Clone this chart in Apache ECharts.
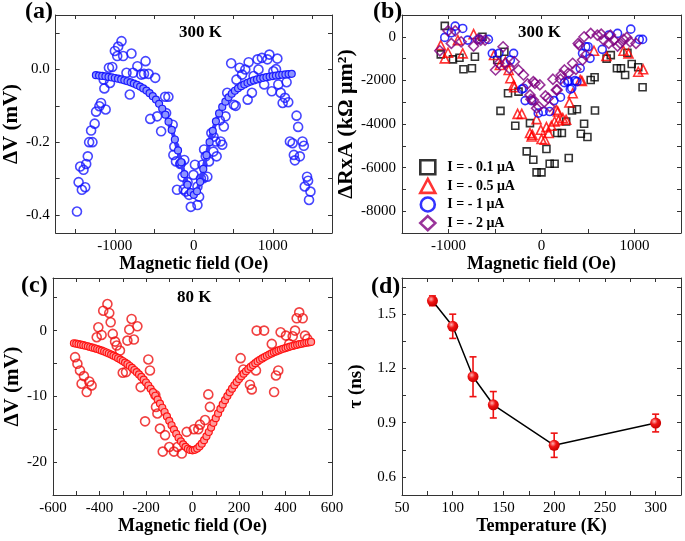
<!DOCTYPE html>
<html><head><meta charset="utf-8">
<script src="https://cdn.jsdelivr.net/npm/echarts@6/dist/echarts.min.js"></script>
<style>html,body{margin:0;padding:0;background:#fff}#c{width:685px;height:541px}</style>
</head><body><div id="c"></div>
<script>
// ---------- Panel (a): 300 K, ΔV vs field ----------
const aFieldX = [-1480,-1459,-1418,-1376,-1439,-1397,-1363,-1343,-1326,-1284,-1301,-1256,-1238,-1196,-1175,-1117,-1133,-1141,-1075,-1033,-1062,-1000,-970,-916,-958,-895,-790,-853,-811,-770,-715,-665,-611,-631,-573,-489,-552,-464,-414,-364,-322,-268,-259,-226,-213,-172,-121,-142,-100,-38,14,-4,46,-351,-247,-163,-79,-129,-60,
  67,46,121,171,109,151,192,130,247,289,222,276,339,360,380,401,423,506,530,473,540,581,611,652,694,682,736,757,807,819,862,891,932,957,987,1008,1058,1041,1070,1100,1125,1154,1196,1175,1301,1321,1217,1251,1267,1280,1343,1376,1393,1434,1405,1447,1477,1459,250,330,90];
const aDeltaV = [-0.391,-0.310,-0.331,-0.324,-0.267,-0.276,-0.260,-0.239,-0.200,-0.200,-0.168,-0.149,-0.116,-0.101,-0.092,-0.110,-0.052,-0.028,0.005,0.007,-0.037,0.051,0.037,0.078,0.063,0.037,0.044,-0.009,-0.069,-0.009,0.009,-0.014,0.023,-0.012,-0.012,-0.023,-0.136,-0.129,-0.170,-0.075,-0.075,-0.152,-0.235,-0.253,-0.331,-0.260,-0.249,-0.295,-0.336,-0.378,-0.262,-0.290,-0.373,-0.120,-0.212,-0.258,-0.310,-0.330,-0.345,
  -0.350,-0.322,-0.299,-0.295,-0.262,-0.239,-0.253,-0.220,-0.226,-0.239,-0.175,-0.198,-0.198,-0.207,-0.157,-0.129,-0.064,-0.097,-0.100,0.017,-0.028,0.005,-0.014,0.000,0.020,-0.083,-0.064,-0.018,0.028,0.000,0.032,-0.041,0.028,0.041,-0.060,-0.005,0.030,0.001,-0.041,-0.064,-0.092,-0.078,-0.090,-0.035,-0.127,-0.158,-0.198,-0.203,-0.235,-0.250,-0.239,-0.198,-0.210,-0.295,-0.322,-0.306,-0.336,-0.359,-0.185,-0.140,-0.300];
const aFitX = [-1240,-1200,-1160,-1120,-1080,-1040,-1000,-960,-920,-880,-840,-800,-760,-720,-680,-640,-600,-560,-520,-480,-440,-400,-360,-320,-280,-240,-200,-160,-120,-80,-40,0,
  40,80,120,160,200,240,280,320,360,400,440,480,520,560,600,640,680,720,760,800,840,880,920,960,1000,1040,1080,1120,1160,1200,1240];
const aFitY = [-0.0156,-0.0166,-0.0177,-0.0189,-0.0203,-0.0218,-0.0234,-0.0253,-0.0274,-0.0297,-0.0323,-0.0353,-0.0387,-0.0425,-0.0470,-0.0521,-0.0581,-0.0651,-0.0733,-0.0829,-0.0944,-0.1080,-0.1242,-0.1435,-0.1662,-0.1927,-0.2228,-0.2553,-0.2881,-0.3171,-0.3376,-0.3450,
  -0.3353,-0.3092,-0.2737,-0.2357,-0.2001,-0.1689,-0.1426,-0.1209,-0.1031,-0.0885,-0.0766,-0.0667,-0.0585,-0.0517,-0.0459,-0.0410,-0.0368,-0.0332,-0.0301,-0.0274,-0.0250,-0.0230,-0.0211,-0.0195,-0.0181,-0.0168,-0.0156,-0.0145,-0.0136,-0.0127,-0.0120];
const aTicksX = [-1500,-1000,-500,0,500,1000,1500];
const aLabelsX = [-1000,0,1000];
const aTicksY = [-0.4,-0.3,-0.2,-0.1,0,0.1];
const aLabelsY = [-0.4,-0.2,0];

// ---------- Panel (b): ΔRxA for four currents ----------
const bNames = ['I = - 0.1 μA','I = - 0.5 μA','I = - 1 μA','I = - 2 μA'];
const b1X = [-1040,-1083,-952,-882,-839,-748,-716,-635,-476,-399,-360,-441,-282,-159,-124,-88,-53,0,-247,53,88,141,293,169,219,265,328,381,458,423,494,575,529,571,700,745,811,854,899,924,970,1040,1087];
const b1Y = [503,-806,-1035,-958,-1490,-1446,-914,0,-1065,-686,-2587,-3397,-4082,-5257,-3959,-5637,-6217,-6217,-2514,-5150,-5820,-5820,-5560,-4416,-4416,-3886,-3383,-3320,-3991,-4448,-4599,-3383,-1979,-1856,-1000,-840,-1446,-1446,-1751,-731,-1248,-1399,-2313];
const b2X = [-1083,-1040,-1005,-899,-847,-730,-511,-388,-448,-353,-335,-300,-293,-257,-212,-124,-106,-98,-53,0,-7,35,53,77,106,141,159,176,183,229,265,300,335,416,434,564,698,882,935,1040,1093];
const b2Y = [-379,-988,-731,-151,-759,123,-837,-1143,-1294,-1522,-1902,-2208,-2313,-3534,-3534,-4416,-4571,-4494,-3777,-4690,-4265,-4722,-4142,-4416,-4082,-3886,-3351,-3429,-3840,-3731,-3808,-3017,-2587,-1979,-2025,-640,-882,-640,-759,-1600,-1490];
const b3X = [-1040,-928,-847,-970,-794,-670,-571,-529,-458,-300,-335,-194,-212,-176,-106,-35,18,88,134,204,247,289,325,360,282,310,381,416,441,476,501,522,653,723,818,960,1051,1087];
const b3Y = [-27,489,384,183,-151,-119,-119,-759,-759,-759,-1065,-2359,-2405,-2926,-2926,-3502,-3429,-3429,-2926,-2771,-2103,-2011,-2359,-2011,-2057,-2405,-2057,-1446,-759,-457,-457,-988,-576,78,155,352,-119,-119];
const b4X = [-1093,-1005,-928,-970,-864,-730,-653,-688,-607,-494,-413,-458,-388,-346,-293,-247,-194,-151,-88,-71,-18,-124,-113,-53,-88,-28,42,71,88,123,159,169,204,212,247,289,335,370,441,476,405,395,458,529,600,642,670,723,741,776,818,847,882,917,952,1016];
const b4Y = [-640,274,274,-302,-229,-425,-151,-119,-152,-1522,-457,-1216,-1216,-1446,-1143,-1522,-1751,-2162,-2057,-2131,-2208,-2665,-2862,-3273,-2894,-3200,-2711,-2816,-3200,-1947,-2437,-2437,-1947,-1751,-1522,-1673,-1216,-1490,-1065,-837,-379,-302,0,155,78,123,-152,-302,78,-151,-425,-302,-119,-27,-229,-302];
const bTicksX = [-1000,-500,0,500,1000];
const bLabelsX = [-1000,0,1000];
const bTicksY = [-8000,-7000,-6000,-5000,-4000,-3000,-2000,-1000,0];
const bLabelsY = [-8000,-6000,-4000,-2000,0];

// ---------- Panel (c): 80 K ----------
const cFieldX = [-505,-495,-484,-467,-477,-444,-434,-455,-412,-405,-391,-384,-366,-358,-352,-343,-333,-326,-312,-300,-286,-280,-272,-262,-252,-237,-223,-190,-183,-204,-157,-151,-160,-140,-118,-128,-100,-80,-65,-46,-25,6,25,32,54,68,75,219,207,247,255,273,276,308,341,351,359,369,379,402,416,431,441,448,459,474,484,494];
const cDeltaV = [-4.04,-5.05,-6.06,-6.92,-8.08,-7.73,-8.33,-9.34,-1.01,0.50,-0.66,3.03,4.04,2.68,1.26,-0.50,-1.67,-2.27,-3.03,-6.41,-6.31,-1.52,0.15,1.77,-1.36,0.66,-8.59,-4.39,-6.06,-13.8,-11.6,-12.6,-9.8,-14.9,-15.9,-18.4,-17.7,-18.4,-17.7,-18.7,-15.4,-15.0,-15.0,-14.3,-13.6,-9.7,-11.6,-5.91,-4.19,-8.23,-8.94,-6.06,0.00,0.00,-2.02,-9.34,-6.82,-6.06,-0.25,-0.76,-2.02,-0.86,0.00,1.87,2.78,1.87,-0.76,-1.26];
const cFitX = [-510,-500,-490,-480,-470,-460,-450,-440,-430,-420,-410,-400,-390,-380,-370,-360,-350,-340,-330,-320,-310,-300,-290,-280,-270,-260,-250,-240,-230,-220,-210,-200,-190,-180,-170,-160,-150,-140,-130,-120,-110,-100,-90,-80,-70,-60,-50,-40,-30,-20,-10,0,
  10,20,30,40,50,60,70,80,90,100,110,120,130,140,150,160,170,180,190,200,210,220,230,240,250,260,270,280,290,300,310,320,330,340,350,360,370,380,390,400,410,420,430,440,450,460,470,480,490,500,510];
const cFitY = [-1.92,-1.99,-2.06,-2.14,-2.22,-2.30,-2.39,-2.49,-2.59,-2.69,-2.80,-2.92,-3.05,-3.18,-3.33,-3.48,-3.64,-3.81,-3.99,-4.19,-4.40,-4.62,-4.86,-5.11,-5.38,-5.67,-5.99,-6.32,-6.67,-7.05,-7.46,-7.89,-8.35,-8.84,-9.36,-9.91,-10.49,-11.10,-11.73,-12.38,-13.05,-13.72,-14.39,-15.05,-15.69,-16.29,-16.83,-17.30,-17.68,-17.97,-18.14,-18.20,
  -18.13,-17.94,-17.62,-17.19,-16.67,-16.07,-15.42,-14.74,-14.03,-13.31,-12.60,-11.90,-11.23,-10.58,-9.96,-9.38,-8.83,-8.31,-7.82,-7.37,-6.95,-6.55,-6.18,-5.84,-5.52,-5.23,-4.95,-4.69,-4.45,-4.23,-4.02,-3.82,-3.64,-3.47,-3.31,-3.16,-3.02,-2.89,-2.76,-2.65,-2.54,-2.43,-2.34,-2.24,-2.16,-2.07,-2.00,-1.92,-1.85,-1.79,-1.72];
const cTicksX = [-500,-400,-300,-200,-100,0,100,200,300,400,500];
const cLabelsX = [-600,-400,-200,0,200,400,600];
const cTicksY = [-20,-15,-10,-5,0,5];
const cLabelsY = [-20,-10,0];

// ---------- Panel (d): τ vs temperature ----------
const dTemp = [80,100,120,140,200,300];
const dTau = [1.574,1.433,1.154,0.999,0.775,0.898];
const dErr = [0.027,0.067,0.11,0.073,0.067,0.049];
const dTicksX = [75,100,125,150,175,200,225,250,275,300];
const dLabelsX = [50,100,150,200,250,300];
const dTicksY = [0.6,0.75,0.9,1.05,1.2,1.35,1.5,1.65];
const dLabelsY = [0.6,0.9,1.2,1.5];

// ---------- build ----------
const FONT = '"Liberation Serif","Times New Roman",serif';
const AX = '#333';
const zip = (xs, ys) => xs.map((x, i) => [x, ys[i]]);

function xPair(gi, min, max, ticks, labels, name, fmt) {
  const base = {type:'value', gridIndex:gi, min, max, splitLine:{show:false},
    axisLine:{show:true, onZero:false, lineStyle:{color:AX, width:1}},
    axisTick:{show:true, inside:true, length:4, customValues:ticks, lineStyle:{color:AX}}};
  return [
    Object.assign({}, base, {position:'bottom',
      axisLabel:{customValues:labels, formatter:fmt, color:'#000', fontFamily:FONT, fontSize:15, margin:6},
      name, nameLocation:'middle', nameGap:17,
      nameTextStyle:{fontFamily:FONT, fontWeight:'bold', fontSize:18, color:'#000'}}),
    Object.assign({}, base, {position:'top', axisLabel:{show:false}})
  ];
}
function yPair(gi, min, max, ticks, labels, name, fmt, gap, nsize) {
  const base = {type:'value', gridIndex:gi, min, max, splitLine:{show:false},
    axisLine:{show:true, onZero:false, lineStyle:{color:AX, width:1}},
    axisTick:{show:true, inside:true, length:4, customValues:ticks, lineStyle:{color:AX}}};
  return [
    Object.assign({}, base, {position:'left',
      axisLabel:{customValues:labels, formatter:fmt, color:'#000', fontFamily:FONT, fontSize:15, margin:6},
      name, nameLocation:'middle', nameGap:gap,
      nameTextStyle:{fontFamily:FONT, fontWeight:'bold', fontSize:nsize, color:'#000'}}),
    Object.assign({}, base, {position:'right', axisLabel:{show:false}})
  ];
}
const f0 = v => String(Math.round(v));
const f1 = v => (Math.abs(v) < 1e-9 ? 0 : v).toFixed(1);

const hollow = (c, w) => ({color:'rgba(255,255,255,0)', borderColor:c, borderWidth:w});
const RED = '#ee1111';
const ttl = (text, left, top, size) => ({text, left, top, padding:0,
  textStyle:{fontFamily:FONT, fontWeight:'bold', fontSize:size, color:'#000'}});

const option = {
  animation:false,
  backgroundColor:'#fff',
  title:[
    ttl('(a)', 25, 0, 24),
    ttl('(b)', 373, 0, 24),
    ttl('(c)', 21, 274, 24),
    ttl('(d)', 371, 275, 24),
    ttl('300 K', 179, 24, 17),
    ttl('300 K', 518, 24, 17),
    ttl('80 K', 177, 289, 17)
  ],
  grid:[
    {left:53, top:15, width:279, height:218},
    {left:402, top:15, width:279, height:218},
    {left:53, top:278, width:279, height:217},
    {left:402, top:278, width:279, height:217}
  ],
  xAxis:[
    ...xPair(0, -1750, 1750, aTicksX, aLabelsX, 'Magnetic field (Oe)', f0),
    ...xPair(1, -1500, 1500, bTicksX, bLabelsX, 'Magnetic field (Oe)', f0),
    ...xPair(2, -600, 600, cTicksX, cLabelsX, 'Magnetic field (Oe)', f0),
    ...xPair(3, 50, 325, dTicksX, dLabelsX, 'Temperature (K)', f0)
  ],
  yAxis:[
    ...yPair(0, -0.45, 0.15, aTicksY, aLabelsY, 'ΔV (mV)', f1, 29, 21),
    ...yPair(1, -9000, 1000, bTicksY, bLabelsY, 'ΔRxA (kΩ μm²)', f0, 36, 22),
    ...yPair(2, -25, 8, cTicksY, cLabelsY, 'ΔV (mV)', f0, 28, 21),
    ...yPair(3, 0.5, 1.7, dTicksY, dLabelsY, 'τ (ns)', f1, 36, 19)
  ],
  legend:{
    data: bNames.map(n => ({name:n, itemStyle:{borderWidth:2.6}})),
    orient:'vertical', left:414, top:154, itemGap:2, itemWidth:15, itemHeight:14,
    textStyle:{fontFamily:FONT, fontWeight:'bold', fontSize:14, color:'#000', padding:[0,0,0,7]},
    selectedMode:false
  },
  series:[
    {type:'scatter', xAxisIndex:0, yAxisIndex:0, symbol:'circle', symbolSize:9,
     itemStyle:hollow('#1818ff', 1.6), data:zip(aFieldX, aDeltaV)},
    {type:'line', xAxisIndex:0, yAxisIndex:0, z:3, symbol:'circle', symbolSize:7, showSymbol:true,
     lineStyle:{color:'#3a3aff', width:4},
     itemStyle:{color:'#8d94ff', borderColor:'#1c1cff', borderWidth:1.2}, data:zip(aFitX, aFitY)},

    {name:bNames[0], type:'scatter', xAxisIndex:2, yAxisIndex:2, symbol:'rect', symbolSize:7,
     itemStyle:hollow('#000', 1.6), data:zip(b1X, b1Y)},
    {name:bNames[1], type:'scatter', xAxisIndex:2, yAxisIndex:2, symbol:'triangle', symbolSize:9,
     itemStyle:hollow('#ff0000', 1.6), data:zip(b2X, b2Y)},
    {name:bNames[2], type:'scatter', xAxisIndex:2, yAxisIndex:2, symbol:'circle', symbolSize:8,
     itemStyle:hollow('#0000ff', 1.6), data:zip(b3X, b3Y)},
    {name:bNames[3], type:'scatter', xAxisIndex:2, yAxisIndex:2, symbol:'diamond', symbolSize:10,
     itemStyle:hollow('#800080', 1.6), data:zip(b4X, b4Y)},

    {type:'scatter', xAxisIndex:4, yAxisIndex:4, symbol:'circle', symbolSize:9,
     itemStyle:hollow(RED, 1.6), data:zip(cFieldX, cDeltaV)},
    {type:'line', xAxisIndex:4, yAxisIndex:4, z:3, symbol:'circle', symbolSize:7, showSymbol:true,
     lineStyle:{color:'#ff3030', width:3},
     itemStyle:{color:'#ff9a9a', borderColor:'#ff1414', borderWidth:1.2}, data:zip(cFitX, cFitY)},

    {type:'custom', xAxisIndex:6, yAxisIndex:6, z:3,
     data: dTemp.map((t, i) => [t, dTau[i] - dErr[i], dTau[i] + dErr[i]]),
     renderItem:(params, api) => {
       const x = api.value(0);
       const lo = api.coord([x, api.value(1)]);
       const hi = api.coord([x, api.value(2)]);
       const cw = 3.5, st = {stroke:RED, lineWidth:1.6};
       return {type:'group', children:[
         {type:'line', shape:{x1:lo[0], y1:lo[1], x2:hi[0], y2:hi[1]}, style:st},
         {type:'line', shape:{x1:lo[0]-cw, y1:lo[1], x2:lo[0]+cw, y2:lo[1]}, style:st},
         {type:'line', shape:{x1:hi[0]-cw, y1:hi[1], x2:hi[0]+cw, y2:hi[1]}, style:st}
       ]};
     }},
    {type:'line', xAxisIndex:6, yAxisIndex:6, z:4, symbol:'circle', symbolSize:11, showSymbol:true,
     lineStyle:{color:'#000', width:1.5},
     itemStyle:{color:{type:'radial', x:0.38, y:0.35, r:0.65,
       colorStops:[{offset:0, color:'#ffb0b0'}, {offset:0.45, color:'#f01515'}, {offset:1, color:'#c80000'}]}},
     data:zip(dTemp, dTau)}
  ]
};
echarts.init(document.getElementById('c'), null, {renderer:'canvas'}).setOption(option);
</script>
</body></html>
